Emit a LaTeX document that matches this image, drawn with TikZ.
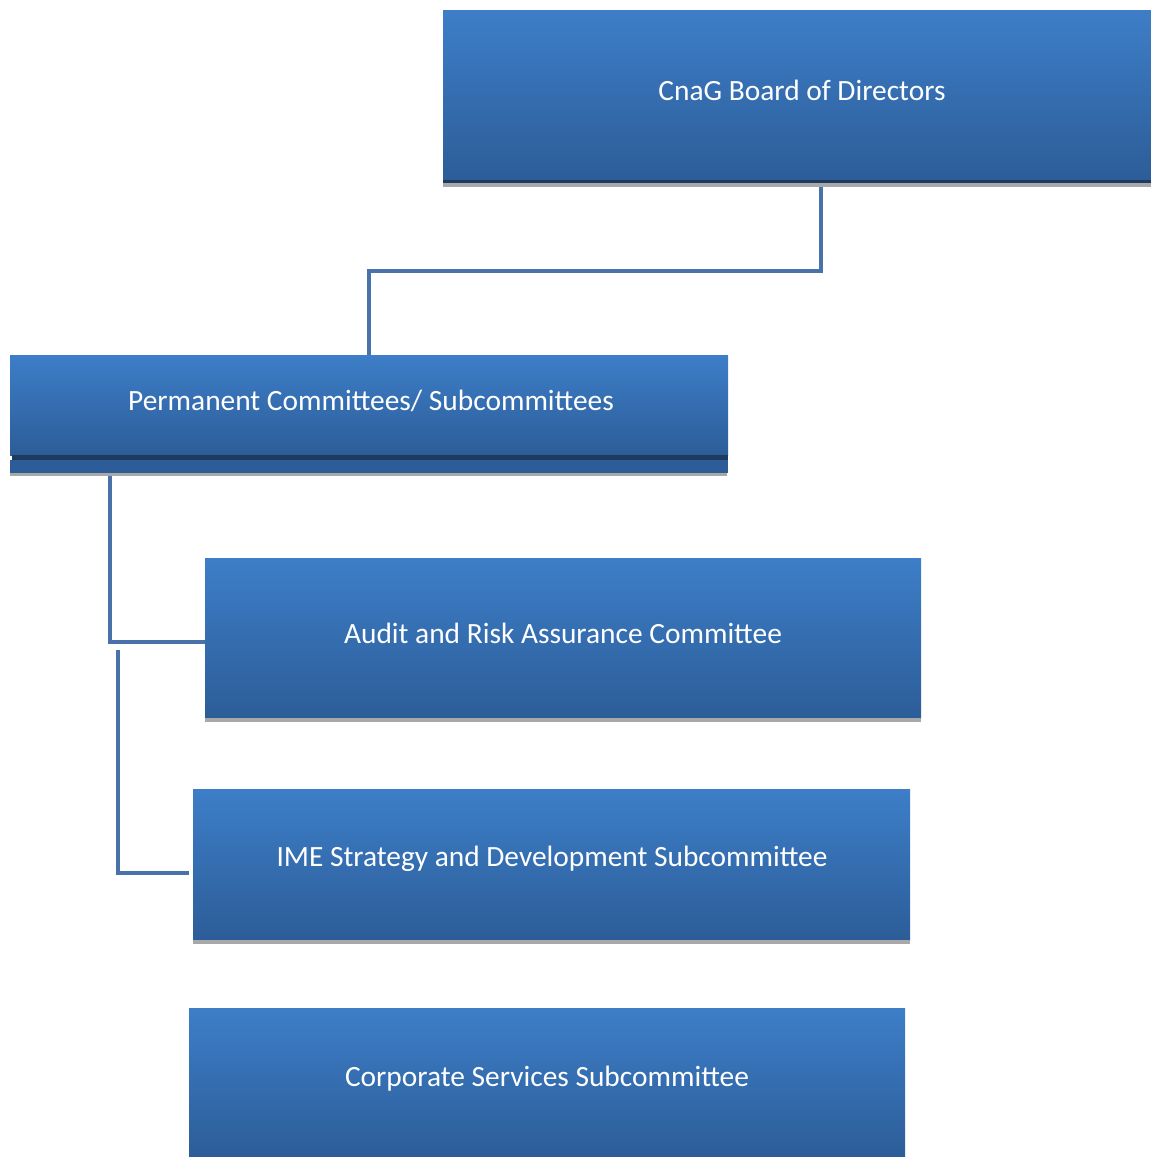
\documentclass[tikz,border=0pt]{standalone}
\usepackage{fontspec}
\setmainfont{Carlito}
\definecolor{boxtop}{RGB}{61,126,200}
\definecolor{boxbot}{RGB}{44,93,152}
\definecolor{bandc}{RGB}{30,58,95}
\definecolor{shadowc}{RGB}{168,168,168}
\definecolor{connc}{RGB}{74,114,170}
\tikzset{
  orgbox/.style={rectangle, draw=none, inner sep=0pt, top color=boxtop, bottom color=boxbot},
  lbl/.style={text=white, inner sep=0pt, font=\fontsize{29.4}{35}\selectfont},
  conn/.style={draw=connc, line width=4pt},
  shadowbar/.style={fill=shadowc, draw=none},
}
\begin{document}
\begin{tikzpicture}[x=1pt,y=-1pt]
\useasboundingbox (0,0) rectangle (1151,1157);

% connector endpoints that are free
\coordinate (j1) at (600,271);
\coordinate (s2) at (118,650);

% boxes (positions in px, y down)
\node[orgbox, minimum width=708pt, minimum height=170pt] (board) at (797,95) {};
\node[orgbox, minimum width=718pt, minimum height=100pt] (perm) at (369,405) {};
\node[orgbox, minimum width=716pt, minimum height=160pt] (audit) at (563,638) {};
\node[orgbox, minimum width=717pt, minimum height=151pt] (ime) at (551.5,864.5) {};
\node[orgbox, minimum width=716pt, minimum height=149pt] (corp) at (547,1082.5) {};

% bottom decorations
\fill[bandc] (board.south west) rectangle ([yshift=-3pt]board.south east);
\fill[shadowc] ([yshift=-3pt]board.south west) rectangle ([yshift=-7pt]board.south east);

\fill[boxbot] ([yshift=-5pt]perm.south west) rectangle ([yshift=-18pt]perm.south east);
\fill[bandc] ([xshift=2pt]perm.south west) rectangle ([yshift=-5pt]perm.south east);
\fill[shadowc] ([yshift=-18pt]perm.south west) rectangle ([xshift=-1pt,yshift=-21pt]perm.south east);

\fill[shadowc] (audit.south west) rectangle ([yshift=-4pt]audit.south east);
\fill[shadowc] (ime.south west) rectangle ([yshift=-4pt]ime.south east);

% connectors
\draw[conn] ([xshift=24pt,yshift=-7pt]board.south) |- (j1) -| (perm.north);
\draw[conn] ([xshift=-259pt,yshift=-21pt]perm.south) |- ([yshift=-4pt]audit.west);
\draw[conn] (s2) |- ([xshift=-4pt,yshift=-8pt]ime.west);

% labels
\node[lbl] (tboard) at (802,90) {CnaG Board of Directors};
\node[lbl] (tperm) at (371,401) {Permanent Committees/ Subcommittees};
\node[lbl] (taudit) at (563,633) {Audit and Risk Assurance Committee};
\node[lbl] (time) at (552,859) {IME Strategy and Development Subcommittee};
\node[lbl] (tcorp) at (547,1079) {Corporate Services Subcommittee};
\end{tikzpicture}
\end{document}
